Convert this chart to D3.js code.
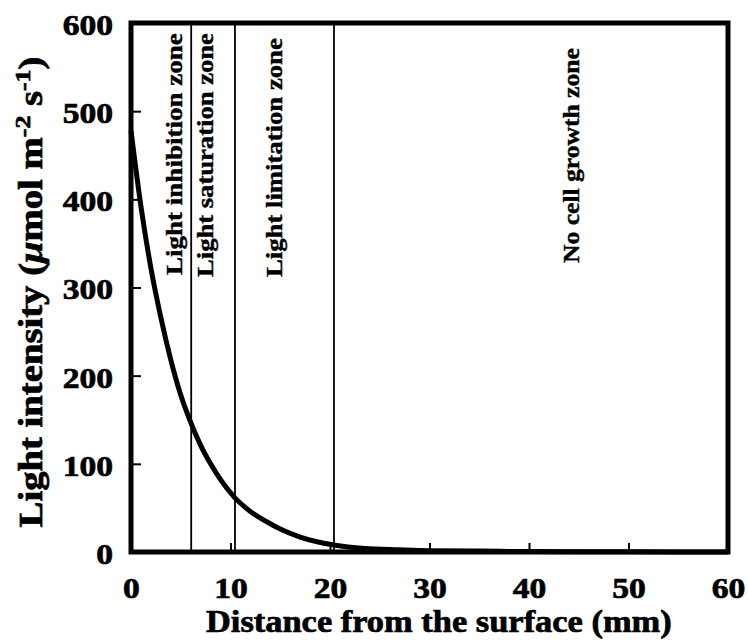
<!DOCTYPE html>
<html>
<head>
<meta charset="utf-8">
<script src="https://cdn.jsdelivr.net/npm/d3@7"></script>
<style>
  body { margin: 0; background: #fff; }
  text { font-family: "Liberation Serif", "Times New Roman", serif; font-weight: bold; fill: #000; stroke: #000; stroke-width: 0.7px; }
</style>
</head>
<body>
<div id="chart"></div>
<script>
// light intensity profile
const distance = [0, 1, 2, 3, 4, 5, 6, 7, 8, 9, 10.4, 12, 14, 15, 17, 20.4, 23.5, 27, 30, 35, 40, 50, 60];
const intensity = [478, 392, 322, 266, 218, 178, 147, 121, 100, 82, 62, 46, 32, 26, 17, 8, 4, 2.5, 1.5, 1, 0.5, 0.2, 0];

const xTicks = [0, 10, 20, 30, 40, 50, 60];
const yTicks = [0, 100, 200, 300, 400, 500, 600];

// zone boundaries (mm) and names
const zoneBounds = [6.05, 10.45, 20.4];
const zoneNames = ["Light inhibition zone", "Light saturation zone", "Light limitation zone", "No cell growth zone"];

const width = 749;
const height = 642;

const svg = d3.select("#chart")
  .append("svg")
  .attr("width", width)
  .attr("height", height);

svg.append("rect").attr("width", width).attr("height", height).attr("fill", "#fff");

const x = d3.scaleLinear().domain([0, 60]).range([131, 728]);
const y = d3.scaleLinear().domain([0, 600]).range([552, 23]);

// axes with inward ticks
const xAxis = svg.append("g")
  .attr("transform", `translate(0,${y(0)})`)
  .call(d3.axisBottom(x).tickValues(xTicks).tickSize(-9).tickPadding(25));

const yAxis = svg.append("g")
  .attr("transform", `translate(${x(0)},0)`)
  .call(d3.axisLeft(y).tickValues(yTicks).tickSize(-10).tickPadding(16));

[xAxis, yAxis].forEach((g) => {
  g.select(".domain").remove();
  g.selectAll(".tick line").attr("stroke", "#000").attr("stroke-width", 2);
  g.selectAll(".tick text")
    .style("font-size", "30px")
    .attr("transform", "scale(1.12,1)");
});
yAxis.selectAll(".tick text").attr("dy", "0.38em");

// zone boundaries
svg.append("g")
  .selectAll("line")
  .data(zoneBounds)
  .join("line")
  .attr("x1", (d) => x(d))
  .attr("x2", (d) => x(d))
  .attr("y1", y(600))
  .attr("y2", y(0))
  .attr("stroke", "#000")
  .attr("stroke-width", 1.8);

// curve
const line = d3.line()
  .x((d, i) => x(distance[i]))
  .y((d) => y(d))
  .curve(d3.curveMonotoneX);

svg.append("path")
  .datum(intensity)
  .attr("d", line)
  .attr("fill", "none")
  .attr("stroke", "#000")
  .attr("stroke-width", 5)
  .attr("stroke-linejoin", "round");

// frame
svg.append("rect")
  .attr("x", x(0))
  .attr("y", y(600))
  .attr("width", x(60) - x(0))
  .attr("height", y(0) - y(600))
  .attr("fill", "none")
  .attr("stroke", "#000")
  .attr("stroke-width", 5);

// zone labels: baseline position in mm, bottom y in px, length in px
const zoneLabelAt = [5.1, 8.25, 15.2, 45.0];
const zoneLabelBottom = [275, 277, 277, 263];
const zoneLabelLen = [242, 244, 239, 215];

zoneNames.forEach((name, i) => {
  const t = svg.append("text")
    .style("font-size", "24px")
    .style("stroke-width", "0.4px")
    .attr("text-anchor", "start")
    .text(name);
  const s = zoneLabelLen[i] / t.node().getComputedTextLength();
  t.attr("transform", `translate(${x(zoneLabelAt[i])},${zoneLabelBottom[i]}) rotate(-90) scale(${s},1)`);
});

// x axis title
const xTitle = svg.append("text")
  .style("font-size", "32px")
  .attr("text-anchor", "start")
  .text("Distance from the surface (mm)");
const xs = 466 / xTitle.node().getComputedTextLength();
xTitle.attr("transform", `translate(206,632) scale(${xs},1)`);

// y axis title
const yTitle = svg.append("text")
  .style("font-size", "33px")
  .attr("text-anchor", "middle");
yTitle.append("tspan").text("Light intensity (");
yTitle.append("tspan").style("font-style", "italic").text("\u03bc");
yTitle.append("tspan").text("mol m");
yTitle.append("tspan").style("font-size", "22px").attr("dy", -12).text("-2");
yTitle.append("tspan").attr("dy", 12).text(" s");
yTitle.append("tspan").style("font-size", "22px").attr("dy", -12).text("-1");
yTitle.append("tspan").attr("dy", 12).text(")");
const ys = 471 / yTitle.node().getComputedTextLength();
yTitle.attr("transform", `translate(42,292) rotate(-90) scale(${ys},1)`);
</script>
</body>
</html>
